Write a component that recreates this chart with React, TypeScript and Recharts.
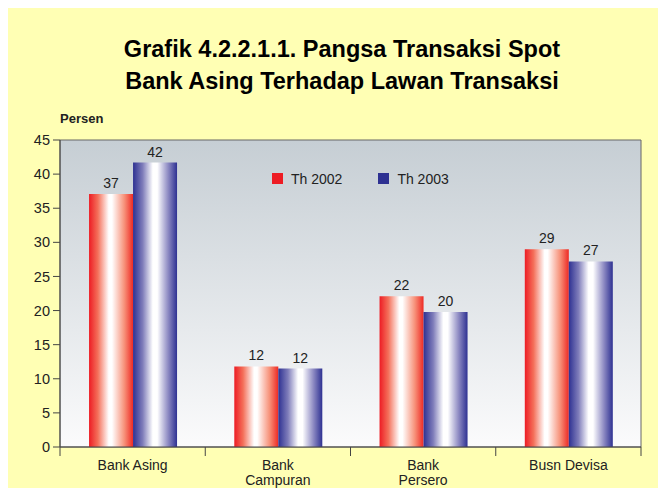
import React from "react";
import {
  BarChart,
  Bar,
  XAxis,
  YAxis,
  CartesianGrid,
  ReferenceArea,
  LabelList,
} from "recharts";

// kategori lawan transaksi
const categories = ["Bank Asing", "Bank\nCampuran", "Bank\nPersero", "Busn Devisa"];
// pangsa (persen)
const th2002 = [37.1, 11.8, 22.1, 29.0];
const th2003 = [41.7, 11.5, 19.8, 27.2];
const yTicks = [0, 5, 10, 15, 20, 25, 30, 35, 40, 45];

const data = categories.map((c, i) => ({ cat: c, a: th2002[i], b: th2003[i] }));

const W = 658;
const H = 480;
const SVG_H = 487;
const X_H = 30;
const M = { top: 132, right: 25, bottom: 41 + (SVG_H - H) - X_H, left: 0 };
const Y_W = 52;
const BAND = (W - M.right - Y_W) / categories.length;
const FONT = "'Liberation Sans', Arial, sans-serif";

function CatTick(props: any) {
  const { x, y, payload, index } = props;
  const lines = String(payload.value).split("\n");
  return (
    <g>
      <line x1={x - BAND / 2} x2={x - BAND / 2} y1={y} y2={y + 9} stroke="#444" />
      {index === categories.length - 1 && (
        <line x1={x + BAND / 2} x2={x + BAND / 2} y1={y} y2={y + 9} stroke="#444" />
      )}
      <text x={x} y={y + 23} textAnchor="middle" fill="#222" fontSize={14} fontFamily={FONT}>
        {lines.map((l, i) => (
          <tspan key={i} x={x} dy={i === 0 ? 0 : 15}>
            {l}
          </tspan>
        ))}
      </text>
    </g>
  );
}

function LegendBox() {
  const item = (color: string, label: string) => (
    <span style={{ display: "inline-flex", alignItems: "center", marginRight: 36 }}>
      <span style={{ width: 11, height: 11, background: color, display: "inline-block", marginRight: 8 }} />
      <span style={{ fontSize: 14, color: "#222" }}>{label}</span>
    </span>
  );
  return (
    <div style={{ position: "absolute", top: 162, left: 264, fontFamily: FONT, whiteSpace: "nowrap" }}>
      {item("#ed1c24", "Th 2002")}
      {item("#2e3192", "Th 2003")}
    </div>
  );
}

export default function App() {
  return (
    <div style={{ position: "relative", width: W, height: H, background: "#ffffb4", fontFamily: FONT }}>
      <div
        style={{
          position: "absolute",
          top: 25,
          left: 0,
          width: W,
          textAlign: "center",
          fontWeight: "bold",
          fontSize: 23.5,
          lineHeight: "32px",
          color: "#000",
          paddingLeft: 10,
          boxSizing: "border-box",
        }}
      >
        Grafik 4.2.2.1.1. Pangsa Transaksi Spot
        <br />
        Bank Asing Terhadap Lawan Transaksi
      </div>
      <div style={{ position: "absolute", top: 103, left: 52, fontWeight: "bold", fontSize: 13, color: "#222" }}>
        Persen
      </div>
      <div style={{ position: "absolute", top: 0, left: 0 }}>
        <BarChart width={W} height={SVG_H} data={data} margin={M} barCategoryGap="20%" barGap={0}>
          <defs>
            <linearGradient id="plotBg" x1="0" y1="0" x2="0" y2="1">
              <stop offset="0%" stopColor="#c6ced4" />
              <stop offset="100%" stopColor="#fbfbfc" />
            </linearGradient>
            <linearGradient id="redBar" x1="0" y1="0" x2="1" y2="0">
              <stop offset="0%" stopColor="#ed1c24" />
              <stop offset="20%" stopColor="#f4705a" />
              <stop offset="45%" stopColor="#ffffff" />
              <stop offset="52%" stopColor="#ffffff" />
              <stop offset="80%" stopColor="#f7927a" />
              <stop offset="100%" stopColor="#ee2a24" />
            </linearGradient>
            <linearGradient id="blueBar" x1="0" y1="0" x2="1" y2="0">
              <stop offset="0%" stopColor="#2e3192" />
              <stop offset="22%" stopColor="#7f7dba" />
              <stop offset="45%" stopColor="#ffffff" />
              <stop offset="55%" stopColor="#ffffff" />
              <stop offset="80%" stopColor="#8c89c2" />
              <stop offset="100%" stopColor="#2e3192" />
            </linearGradient>
          </defs>
          <CartesianGrid horizontal={false} vertical={false} fill="url(#plotBg)" />
          <ReferenceArea y1={0} y2={45} fill="none" stroke="#666" strokeWidth={1} />
          <XAxis
            dataKey="cat"
            interval={0}
            height={X_H}
            tickLine={false}
            tickSize={0}
            tickMargin={0}
            axisLine={{ stroke: "#444" }}
            tick={<CatTick />}
          />
          <YAxis
            domain={[0, 45]}
            ticks={yTicks}
            width={Y_W}
            tickSize={7}
            tickMargin={3}
            axisLine={{ stroke: "#444" }}
            tickLine={{ stroke: "#444" }}
            tick={{ fill: "#222", fontSize: 14.5, fontFamily: FONT }}
          />
          <Bar dataKey="a" name="Th 2002" fill="url(#redBar)" isAnimationActive={false}>
            <LabelList
              dataKey="a"
              position="top"
              offset={6}
              formatter={(v: any) => Math.round(Number(v))}
              style={{ fill: "#222", fontSize: 14, fontFamily: FONT }}
            />
          </Bar>
          <Bar dataKey="b" name="Th 2003" fill="url(#blueBar)" isAnimationActive={false}>
            <LabelList
              dataKey="b"
              position="top"
              offset={6}
              formatter={(v: any) => Math.round(Number(v))}
              style={{ fill: "#222", fontSize: 14, fontFamily: FONT }}
            />
          </Bar>
        </BarChart>
      </div>
      <LegendBox />
    </div>
  );
}
